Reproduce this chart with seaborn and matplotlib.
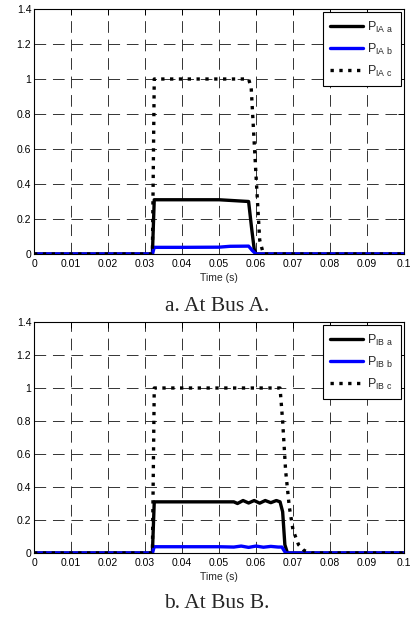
import numpy as np
import pandas as pd
import matplotlib
matplotlib.use("Agg")
import matplotlib.pyplot as plt
import seaborn as sns

sns.set_style("white")
plt.rcParams["font.family"] = ["Liberation Sans", "DejaVu Sans"]
plt.rcParams["mathtext.default"] = "regular"

# Bus A waveforms (time in s, power in pu)
t_a = [0.0, 0.0320, 0.0325, 0.0400, 0.0500, 0.0540, 0.0580, 0.0588, 0.0595, 0.0600, 0.1000]
pa_a = [0.0, 0.0, 0.31, 0.31, 0.31, 0.305, 0.30, 0.15, 0.03, 0.0, 0.0]
t_b = [0.0, 0.0320, 0.0325, 0.0400, 0.0500, 0.0530, 0.0580, 0.0590, 0.0600, 0.1000]
pa_b = [0.0, 0.0, 0.038, 0.038, 0.039, 0.044, 0.045, 0.02, 0.0, 0.0]
t_c = [0.0, 0.0320, 0.0325, 0.0400, 0.0500, 0.0580, 0.0587, 0.0600, 0.0610, 0.0620, 0.1000]
pa_c = [0.0, 0.0, 1.0, 1.0, 1.0, 1.0, 0.95, 0.45, 0.08, 0.0, 0.0]

# Bus B waveforms
tb_a = [0.0, 0.0320, 0.0325, 0.0400, 0.0500, 0.0540, 0.0550, 0.0565, 0.0580, 0.0595, 0.0610,
        0.0625, 0.0640, 0.0655, 0.0665, 0.0672, 0.0678, 0.0685, 0.1000]
pb_a = [0.0, 0.0, 0.31, 0.31, 0.31, 0.31, 0.30, 0.318, 0.303, 0.318, 0.302, 0.318, 0.305,
        0.318, 0.31, 0.25, 0.05, 0.0, 0.0]
tb_b = [0.0, 0.0320, 0.0325, 0.0400, 0.0500, 0.0540, 0.0560, 0.0580, 0.0600, 0.0620,
        0.0640, 0.0660, 0.0670, 0.0680, 0.1000]
pb_b = [0.0, 0.0, 0.038, 0.038, 0.038, 0.036, 0.042, 0.034, 0.042, 0.035, 0.040, 0.036,
        0.036, 0.0, 0.0]
tb_c = [0.0, 0.0320, 0.0325, 0.0400, 0.0500, 0.0600, 0.0665, 0.0672, 0.0680, 0.0690,
        0.0700, 0.0715, 0.0730, 0.0750, 0.1000]
pb_c = [0.0, 0.0, 1.0, 1.0, 1.0, 1.0, 1.0, 0.80, 0.50, 0.28, 0.14, 0.05, 0.015, 0.0, 0.0]

x_ticks = [0, 0.01, 0.02, 0.03, 0.04, 0.05, 0.06, 0.07, 0.08, 0.09, 0.1]
x_labels = ["0", "0.01", "0.02", "0.03", "0.04", "0.05", "0.06", "0.07", "0.08", "0.09", "0.1"]
y_ticks = [0, 0.2, 0.4, 0.6, 0.8, 1.0, 1.2, 1.4]
y_labels = ["0", "0.2", "0.4", "0.6", "0.8", "1", "1.2", "1.4"]

W, H = 414, 618
fig = plt.figure(figsize=(W / 100, H / 100), dpi=100)


def add_axes(left, top, right, bottom):
    return fig.add_axes([left / W, 1 - bottom / H, (right - left) / W, (bottom - top) / H])


def draw_panel(ax, series, bus, caption, cap_base):
    styles = [("black", "-"), ("blue", "-"), ("black", ":")]
    for (t, p, ph), (col, ls) in zip(series, styles):
        df = pd.DataFrame({"t": t, "p": p})
        sns.lineplot(data=df, x="t", y="p", ax=ax, color=col, linestyle=ls, linewidth=2.4,
                     sort=False, estimator=None,
                     label=r"P$_{\mathregular{I%s\ %s}}$" % (bus, ph))
    ax.set_xlim(0, 0.1)
    ax.set_ylim(0, 1.4)
    ax.set_xticks(x_ticks)
    ax.set_xticklabels(x_labels)
    ax.set_yticks(y_ticks)
    ax.set_yticklabels(y_labels)
    ax.grid(True, color="#333333", linestyle=(0, (12, 7)), linewidth=0.7)
    ax.tick_params(direction="in", length=4, width=0.7, labelsize=7.5, top=True, right=True,
                   colors="black")
    ax.tick_params(axis="x", pad=3.5)
    ax.tick_params(axis="y", pad=2)
    for s in ax.spines.values():
        s.set_color("black")
        s.set_linewidth(0.8)
    ax.set_xlabel("Time (s)", fontsize=7.5, labelpad=3)
    ax.set_ylabel("")
    leg = ax.legend(loc="upper right", fontsize=9, frameon=True, fancybox=False,
                    edgecolor="black", framealpha=1, handlelength=2.6, borderaxespad=0.25,
                    borderpad=0.6, labelspacing=0.55, handletextpad=0.35)
    leg.get_frame().set_linewidth(0.8)
    fig.text(0.5 * (30 + 404) / W, 1 - cap_base / H, caption, ha="center", va="baseline",
             fontsize=15.5, family="Liberation Serif")


ax1 = add_axes(34, 9, 404, 254)
draw_panel(ax1, [(t_a, pa_a, "a"), (t_b, pa_b, "b"), (t_c, pa_c, "c")], "A", "a. At Bus A.", 311)

ax2 = add_axes(34, 322, 404, 553)
draw_panel(ax2, [(tb_a, pb_a, "a"), (tb_b, pb_b, "b"), (tb_c, pb_c, "c")], "B", "b. At Bus B.", 608)

fig.savefig("out.png", dpi=100)
